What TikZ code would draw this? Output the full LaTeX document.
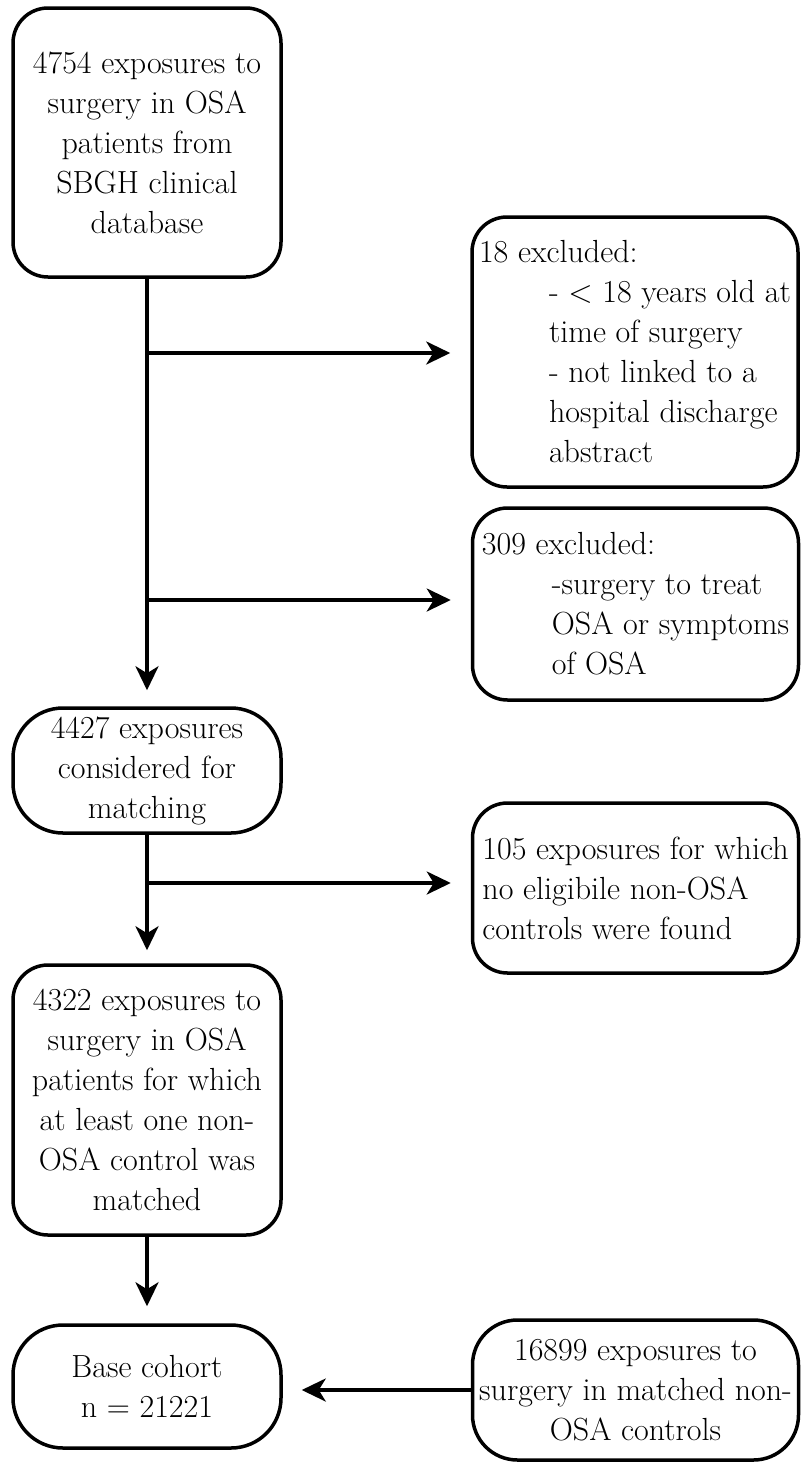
\documentclass[tikz,border=0pt]{standalone}
\usepackage{fontspec}
\usetikzlibrary{arrows.meta,calc}
\newcommand{\ind}{\hspace*{70pt}}
\begin{document}
\begin{tikzpicture}[x=1pt,y=-1pt,
  box/.style={draw, line width=3.5pt, rounded corners=35pt, inner sep=0pt,
    align=center, font=\fontsize{32}{40}\selectfont},
  flow/.style={line width=3.5pt, -{Stealth[length=24pt,width=23pt,inset=7pt]}}]
\useasboundingbox (0,0) rectangle (801,1462);

% boxes of the main column
\node[box, minimum width=268pt, minimum height=269pt] (start) at (147,142.5)
  {4754 exposures to\\surgery in OSA\\patients from\\SBGH clinical\\database};
\node[box, rounded corners=50pt, minimum width=268pt, minimum height=125pt] (consider) at (147,770.5)
  {4427 exposures\\considered for\\matching};
\node[box, minimum width=268pt, minimum height=270pt] (matched) at (147,1100)
  {4322 exposures to\\surgery in OSA\\patients for which\\at least one non-\\OSA control was\\matched};
\node[box, rounded corners=50pt, minimum width=268pt, minimum height=123pt] (base) at (147,1386.5)
  {Base cohort\\n = 21221};

% boxes on the right
\node[box, align=left, minimum width=326pt, minimum height=270pt] (excl1) at (635,352)
  {18 excluded:\\\ind - < 18 years old at\\\ind time of surgery\\\ind - not linked to a\\\ind hospital discharge\\\ind abstract};
\node[box, align=left, minimum width=326pt, minimum height=192pt] (excl2) at (635.5,604)
  {309 excluded:\\\ind -surgery to treat\\\ind OSA or symptoms\\\ind of OSA};
\node[box, align=left, minimum width=326pt, minimum height=170pt] (nomatch) at (635.5,888)
  {105 exposures for which\\no eligibile non-OSA\\controls were found};
\node[box, rounded corners=45pt, minimum width=326pt, minimum height=140pt] (controls) at (635.5,1390)
  {16899 exposures to\\surgery in matched non-\\OSA controls};

% branch points on the trunk
\coordinate (j1) at (147,353);
\coordinate (j2) at (147,600);
\coordinate (j3) at (147,883);

% connectors
\draw[flow, shorten >=16pt] (start.south) -- (consider.north);
\draw[flow, shorten >=20pt] (j1) -- (j1 -| excl1.west);
\draw[flow, shorten >=20pt] (j2) -- (j2 -| excl2.west);
\draw[flow, shorten >=13pt] (consider.south) -- (matched.north);
\draw[flow, shorten >=20pt] (j3) -- (j3 -| nomatch.west);
\draw[flow, shorten >=17pt] (matched.south) -- (base.north);
\draw[flow, shorten >=19pt] (controls.west) -- (controls.west -| base.east);
\end{tikzpicture}
\end{document}
